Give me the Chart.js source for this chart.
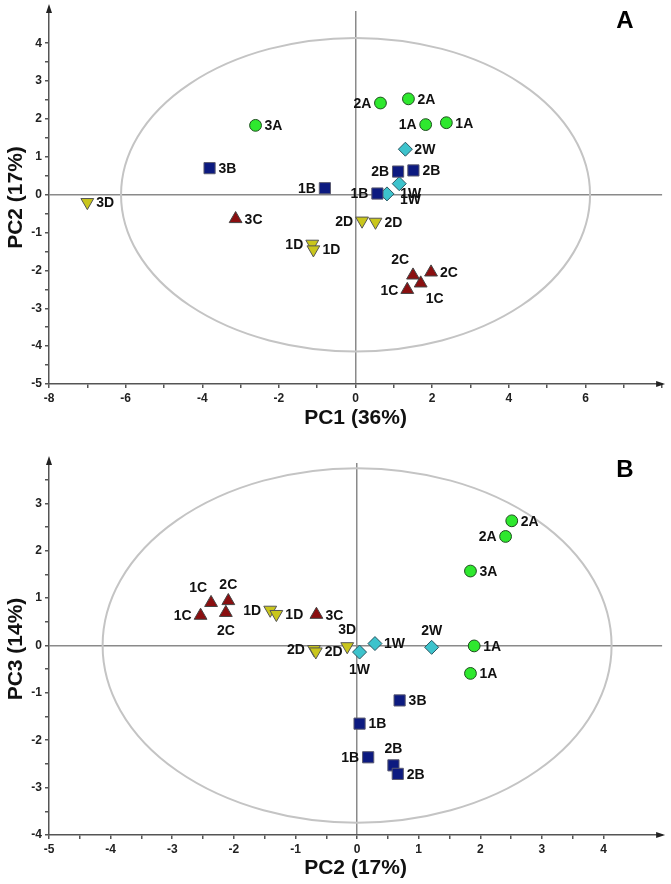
<!DOCTYPE html>
<html>
<head>
<meta charset="utf-8">
<script src="https://cdn.jsdelivr.net/npm/chart.js@4.4.0/dist/chart.umd.min.js"></script>
<style>
  body { margin: 0; background: #fff; }
  canvas { display: block; }
</style>
</head>
<body>
<canvas id="chartA" width="671" height="442"></canvas>
<canvas id="chartB" width="671" height="442"></canvas>
<script>
// ---- Panel A: PC1 vs PC2 ----
const aNamesA = ['3A', '2A', '2A', '1A', '1A'];
const aPc1A = [-2.61, 0.65, 1.38, 1.83, 2.37];
const aPc2A = [1.83, 2.42, 2.53, 1.85, 1.90];

const aNamesB = ['3B', '1B', '2B', '2B', '1B'];
const aPc1B = [-3.81, -0.80, 1.11, 1.51, 0.57];
const aPc2B = [0.70, 0.17, 0.61, 0.64, 0.03];

const aNamesC = ['3C', '2C', '2C', '1C', '1C'];
const aPc1C = [-3.13, 1.50, 1.97, 1.35, 1.70];
const aPc2C = [-0.64, -2.13, -2.05, -2.51, -2.34];

const aNamesD = ['3D', '1D', '1D', '2D', '2D'];
const aPc1D = [-7.0, -1.13, -1.10, 0.17, 0.52];
const aPc2D = [-0.20, -1.30, -1.45, -0.69, -0.72];

const aNamesW = ['2W', '1W', '1W'];
const aPc1W = [1.30, 1.14, 0.82];
const aPc2W = [1.20, 0.29, 0.02];

// ---- Panel B: PC2 vs PC3 ----
const bNamesA = ['2A', '2A', '3A', '1A', '1A'];
const bPc2A = [2.51, 2.41, 1.84, 1.90, 1.84];
const bPc3A = [2.63, 2.30, 1.57, -0.01, -0.59];

const bNamesB = ['3B', '1B', '1B', '2B', '2B'];
const bPc2B = [0.69, 0.04, 0.18, 0.59, 0.66];
const bPc3B = [-1.16, -1.65, -2.36, -2.53, -2.71];

const bNamesC = ['1C', '2C', '1C', '2C', '3C'];
const bPc2C = [-2.37, -2.09, -2.54, -2.13, -0.66];
const bPc3C = [0.90, 0.94, 0.63, 0.69, 0.65];

const bNamesD = ['1D', '1D', '2D', '2D', '3D'];
const bPc2D = [-1.41, -1.31, -0.70, -0.67, -0.16];
const bPc3D = [0.75, 0.66, -0.08, -0.13, -0.02];

const bNamesW = ['1W', '1W', '2W'];
const bPc2W = [0.04, 0.29, 1.21];
const bPc3W = [-0.14, 0.04, -0.04];

// confidence ellipse half-axes (x, y)
const ellipseA = [6.12, 4.14];
const ellipseB = [4.13, 3.74];

// label placement for each point (style only)
const aPlaceA = ['r', 'l', 'r', 'l', 'r'];
const aPlaceB = ['r', 'l', 'l', 'r', 'l'];
const aPlaceC = ['r', 'tl', 'r', 'l', 'br'];
const aPlaceD = ['r', 'l', 'r', 'l', 'r'];
const aPlaceW = ['r', 'rb', 'rb2'];
const bPlaceA = ['r', 'l', 'r', 'r', 'r'];
const bPlaceB = ['r', 'r', 'l', 't', 'r'];
const bPlaceC = ['tl', 't', 'l', 'b', 'r'];
const bPlaceD = ['l', 'r', 'l', 'r', 't'];
const bPlaceW = ['b', 'r', 't'];

const FONT = "'Liberation Sans', Arial, sans-serif";

const PLACE = {
  r: [9, 1, 'left'], l: [-9, 1, 'right'], t: [0, -16, 'center'], b: [0, 18, 'center'],
  tl: [-4, -15, 'right'], br: [5, 16, 'left'], rb: [1, 10, 'left'], rb2: [13, 6, 'left']
};

const STYLE = {
  A: { pointStyle: 'circle', r: 5.9, rot: 0, bg: '#2ee82e', bd: '#1d4d1d' },
  B: { pointStyle: 'rect', r: 7.9, rot: 0, bg: '#0c1a80', bd: '#5a5a70' },
  C: { pointStyle: 'triangle', r: 7.4, rot: 0, bg: '#8a0f10', bd: '#444' },
  D: { pointStyle: 'triangle', r: 7.4, rot: 180, bg: '#c9c61c', bd: '#555' },
  W: { pointStyle: 'rectRot', r: 7, rot: 0, bg: '#3dc3cc', bd: '#2a5560' }
};

function ds(key, xs, ys, names, places) {
  const s = STYLE[key];
  return {
    data: xs.map((x, i) => ({ x: x, y: ys[i] })),
    pointStyle: s.pointStyle, pointRadius: s.r, pointRotation: s.rot,
    backgroundColor: s.bg, borderColor: s.bd, borderWidth: 1,
    names: names, places: places
  };
}

const pointLabels = {
  id: 'pointLabels',
  afterDatasetsDraw(chart) {
    const ctx = chart.ctx;
    ctx.save();
    ctx.font = 'bold 14px ' + FONT;
    ctx.fillStyle = '#111';
    ctx.textBaseline = 'middle';
    chart.data.datasets.forEach((d, di) => {
      chart.getDatasetMeta(di).data.forEach((pt, i) => {
        const p = PLACE[d.places[i]];
        ctx.textAlign = p[2];
        ctx.fillText(d.names[i], pt.x + p[0], pt.y + p[1]);
      });
    });
    ctx.restore();
  }
};

const extras = {
  id: 'extras',
  beforeDatasetsDraw(chart, args, opts) {
    const { x, y } = chart.scales;
    const ctx = chart.ctx;
    const cx = x.getPixelForValue(0), cy = y.getPixelForValue(0);
    const rx = Math.abs(x.getPixelForValue(opts.ellipse[0]) - cx);
    const ry = Math.abs(y.getPixelForValue(opts.ellipse[1]) - cy);
    ctx.save();
    ctx.strokeStyle = '#c4c4c4';
    ctx.lineWidth = 2;
    ctx.beginPath();
    ctx.ellipse(cx, cy, rx, ry, 0, 0, Math.PI * 2);
    ctx.stroke();
    ctx.restore();
  },
  afterDraw(chart, args, opts) {
    const a = chart.chartArea;
    const ctx = chart.ctx;
    ctx.save();
    ctx.fillStyle = '#222';
    // arrow heads
    ctx.beginPath();
    ctx.moveTo(a.left, a.top - 7);
    ctx.lineTo(a.left - 3, a.top + 2);
    ctx.lineTo(a.left + 3, a.top + 2);
    ctx.fill();
    ctx.beginPath();
    ctx.moveTo(a.right + 3, a.bottom);
    ctx.lineTo(a.right - 6, a.bottom - 3);
    ctx.lineTo(a.right - 6, a.bottom + 3);
    ctx.fill();
    // panel letter
    ctx.fillStyle = '#000';
    ctx.font = 'bold 24px ' + FONT;
    ctx.textAlign = 'center';
    ctx.textBaseline = 'middle';
    ctx.fillText(opts.letter, 625, opts.letterY);
    ctx.restore();
  }
};

function isStep(v, step) {
  return Math.abs(v / step - Math.round(v / step)) < 1e-6;
}

function axis(min, max, step, labelEvery, labelMax, title, titlePad, size) {
  return {
    type: 'linear', min: min, max: max,
    border: { display: true, color: '#555', width: 1.5 },
    grid: {
      drawOnChartArea: true, drawTicks: true, tickLength: 4, lineWidth: 1.5,
      color: c => Math.abs(c.tick.value) < 1e-9 ? '#8a8a8a' : 'rgba(0,0,0,0)',
      tickColor: c => isStep(c.tick.value, step) ? '#555' : 'rgba(0,0,0,0)'
    },
    ticks: {
      stepSize: step, autoSkip: false, maxRotation: 0, padding: 3,
      color: '#222', font: { family: FONT, weight: 'bold', size: 12 },
      callback: v => (isStep(v, labelEvery) && v <= labelMax + 1e-9) ? String(Math.round(v)) : ''
    },
    title: {
      display: true, text: title, color: '#111',
      font: { family: FONT, weight: 'bold', size: 21 }, padding: titlePad
    },
    afterFit: s => { if (s.isHorizontal()) s.height = size; else s.width = size; }
  };
}

function makeChart(id, datasets, xAxis, yAxis, padTop, ellipse, letter, letterY) {
  return new Chart(document.getElementById(id), {
    type: 'scatter',
    data: { datasets: datasets },
    options: {
      responsive: false, animation: false, events: [],
      layout: { padding: { top: padTop, right: 8, left: 0, bottom: 0 } },
      plugins: {
        legend: { display: false }, tooltip: { enabled: false },
        extras: { ellipse: ellipse, letter: letter, letterY: letterY }
      },
      scales: { x: xAxis, y: yAxis }
    },
    plugins: [extras, pointLabels]
  });
}

makeChart('chartA', [
  ds('A', aPc1A, aPc2A, aNamesA, aPlaceA),
  ds('B', aPc1B, aPc2B, aNamesB, aPlaceB),
  ds('C', aPc1C, aPc2C, aNamesC, aPlaceC),
  ds('D', aPc1D, aPc2D, aNamesD, aPlaceD),
  ds('W', aPc1W, aPc2W, aNamesW, aPlaceW)
],
  axis(-8, 8, 1, 2, 6, 'PC1 (36%)', { top: 0, bottom: 11 }, 58),
  axis(-5, 4.85, 0.5, 1, 4, 'PC2 (17%)', { top: 4, bottom: 0 }, 49),
  11, ellipseA, 'A', 21);

makeChart('chartB', [
  ds('A', bPc2A, bPc3A, bNamesA, bPlaceA),
  ds('B', bPc2B, bPc3B, bNamesB, bPlaceB),
  ds('C', bPc2C, bPc3C, bNamesC, bPlaceC),
  ds('D', bPc2D, bPc3D, bNamesD, bPlaceD),
  ds('W', bPc2W, bPc3W, bNamesW, bPlaceW)
],
  axis(-5, 4.95, 0.5, 1, 4, 'PC2 (17%)', { top: 0, bottom: 3 }, 49),
  axis(-4, 3.85, 0.5, 1, 3, 'PC3 (14%)', { top: 4, bottom: 0 }, 49),
  21, ellipseB, 'B', 28);
</script>
</body>
</html>
